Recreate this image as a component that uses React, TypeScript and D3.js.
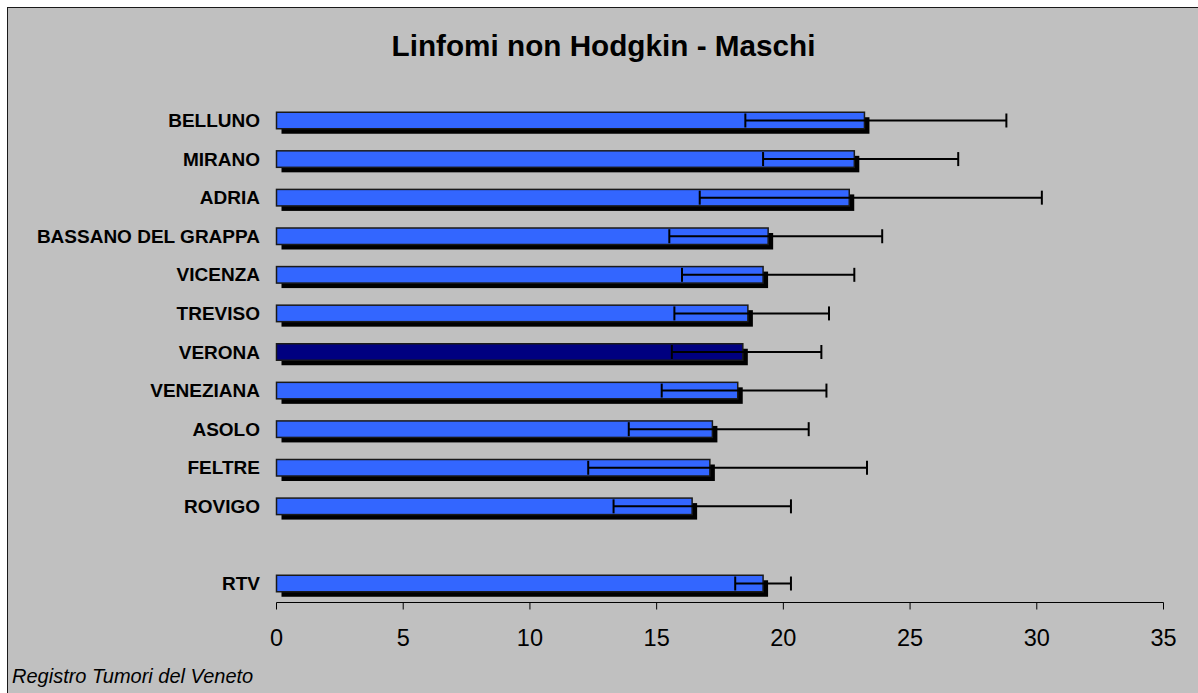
import * as d3 from "d3";

// registri (dal più alto al più basso), con una riga vuota prima del totale RTV
const categories = [
  "BELLUNO", "MIRANO", "ADRIA", "BASSANO DEL GRAPPA", "VICENZA", "TREVISO",
  "VERONA", "VENEZIANA", "ASOLO", "FELTRE", "ROVIGO", "", "RTV",
];
// tasso standardizzato
const rates = [23.2, 22.8, 22.6, 19.4, 19.2, 18.6, 18.4, 18.2, 17.2, 17.1, 16.4, null, 19.2];
// intervallo di confidenza
const lower = [18.5, 19.2, 16.7, 15.5, 16.0, 15.7, 15.6, 15.2, 13.9, 12.3, 13.3, null, 18.1];
const upper = [28.8, 26.9, 30.2, 23.9, 22.8, 21.8, 21.5, 21.7, 21.0, 23.3, 20.3, null, 20.3];
const highlighted = "VERONA";
const xTicks = [0, 5, 10, 15, 20, 25, 30, 35];

const W = 1198, H = 693;
const font = "'Liberation Sans', Arial, sans-serif";

export default function App() {
  const x = d3.scaleLinear().domain([0, 35]).range([276.5, 1163.5]);
  const y = d3.scaleBand<string>().domain(categories.map((c, i) => c || "_gap" + i)).range([101.2, 602.8]);
  const barH = 16.5;
  const shadow = 5;
  const axisY = 602.5;

  const rows = categories.map((c, i) => ({
    name: c,
    key: c || "_gap" + i,
    rate: rates[i],
    lo: lower[i],
    hi: upper[i],
  })).filter(d => d.rate !== null);

  return (
    <div style={{ position: "absolute", left: 0, top: 0 }}>
      <svg width={W} height={H} style={{ display: "block" }}>
        <rect x={0} y={0} width={W} height={H} fill="#ffffff" />
        <rect x={7.5} y={7.5} width={W + 10} height={H + 10} fill="#c0c0c0" stroke="#1a1a1a" strokeWidth={1} />

        <text x={603.5} y={56} textAnchor="middle" fontFamily={font} fontWeight="bold" fontSize={29.7} fill="#000">
          Linfomi non Hodgkin - Maschi
        </text>

        {rows.map(d => {
          const cy = (y(d.key) as number) + y.bandwidth() / 2;
          const top = cy - barH / 2;
          const x0 = x(0);
          const x1 = x(d.rate as number);
          return (
            <g key={d.key}>
              <text x={260} y={cy} dy="0.35em" textAnchor="end" fontFamily={font} fontWeight="bold" fontSize={19} fill="#000">
                {d.name}
              </text>
              <rect x={x0 + shadow} y={top + shadow} width={x1 - x0} height={barH} fill="#000" />
              <rect x={x0} y={top} width={x1 - x0} height={barH}
                fill={d.name === highlighted ? "#000080" : "#3366ff"} stroke="#1a1a1a" strokeWidth={1.5} />
              <line x1={x(d.lo as number)} x2={x(d.hi as number)} y1={cy} y2={cy} stroke="#000" strokeWidth={2} />
              <line x1={x(d.lo as number)} x2={x(d.lo as number)} y1={cy - 7} y2={cy + 7} stroke="#000" strokeWidth={2} />
              <line x1={x(d.hi as number)} x2={x(d.hi as number)} y1={cy - 7} y2={cy + 7} stroke="#000" strokeWidth={2} />
            </g>
          );
        })}

        <line x1={x(0)} x2={x(35)} y1={axisY} y2={axisY} stroke="#000" strokeWidth={1} />
        {xTicks.map(t => (
          <g key={t} transform={`translate(${x(t)},0)`}>
            <line y1={axisY} y2={axisY + 7} stroke="#000" strokeWidth={1} />
            <text y={646} textAnchor="middle" fontFamily={font} fontSize={23.5} fill="#000">{t}</text>
          </g>
        ))}

        <text x={12} y={683} fontFamily={font} fontStyle="italic" fontSize={20} fill="#000">
          Registro Tumori del Veneto
        </text>
      </svg>
    </div>
  );
}
